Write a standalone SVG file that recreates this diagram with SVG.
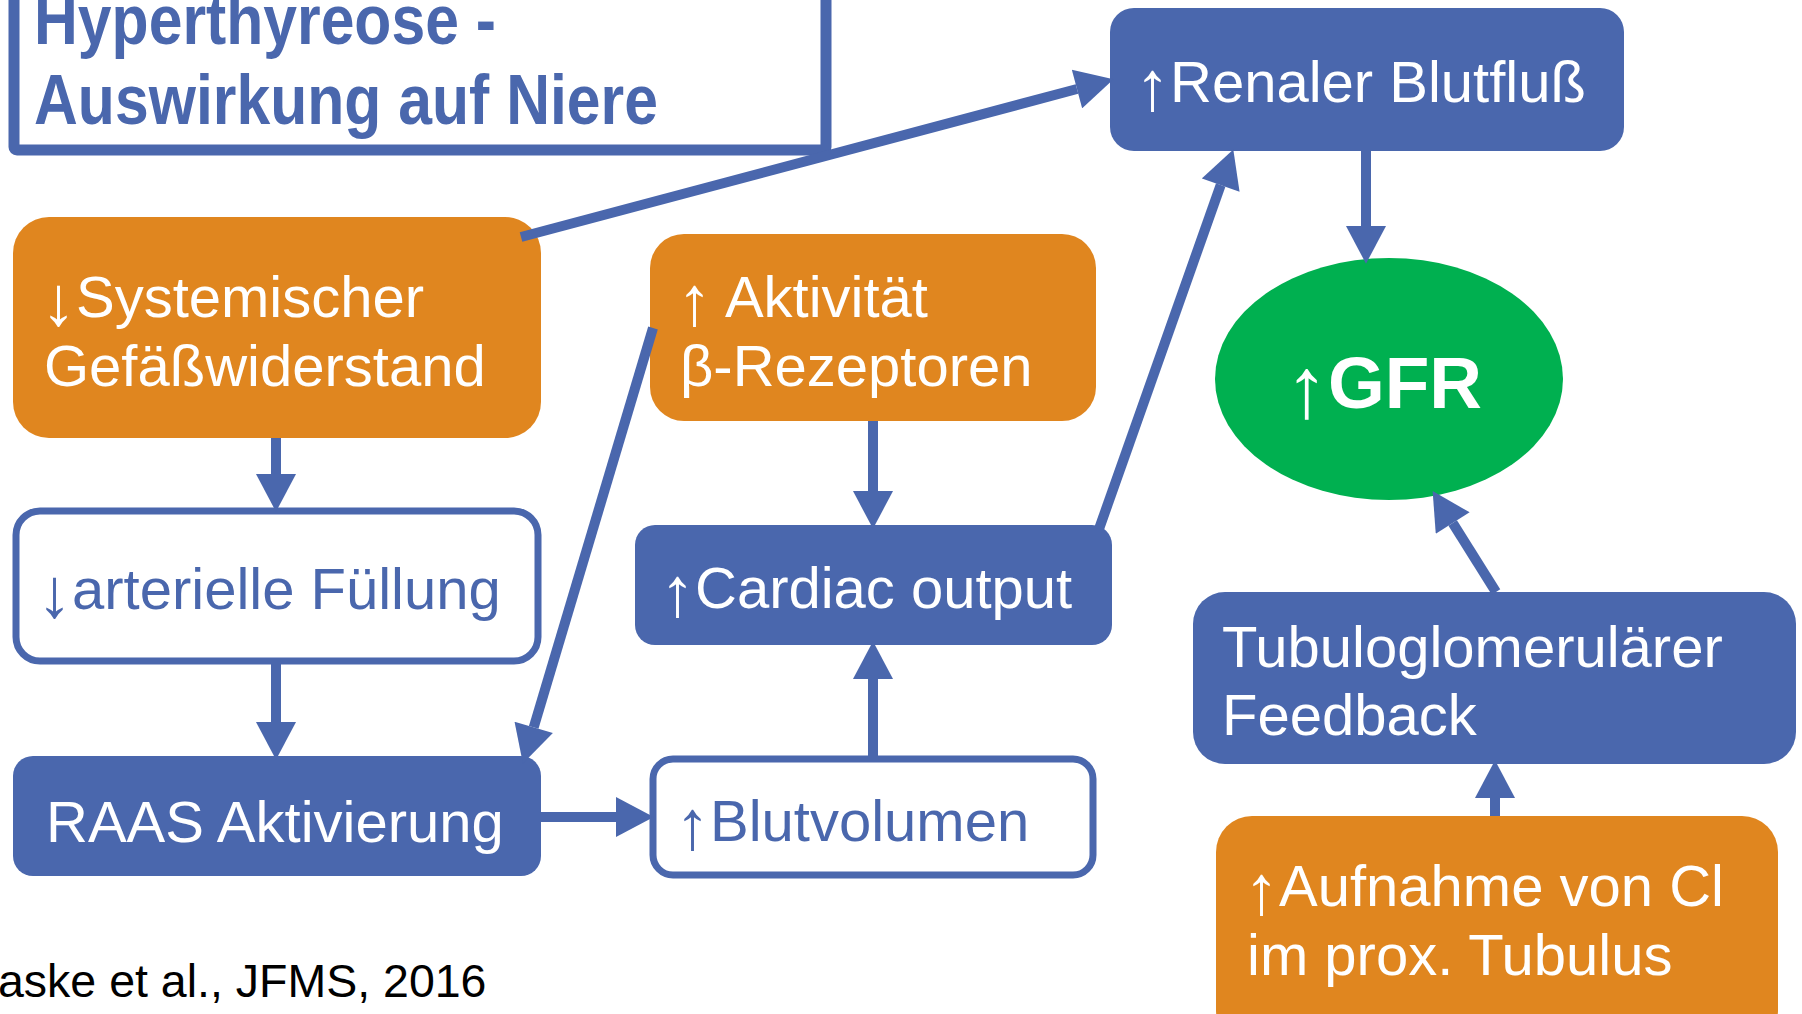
<svg xmlns="http://www.w3.org/2000/svg" width="1802" height="1014" viewBox="0 0 1802 1014">
<style>
.t{font-family:"Liberation Sans",Arial,sans-serif;font-size:58px;}
.w{fill:#ffffff;}
.b{fill:#4A67AD;}
.blue{fill:#4A67AD;}
.orange{fill:#E0861F;}
.outline{fill:#ffffff;stroke:#4A67AD;stroke-width:7;}
.c{stroke:#4A67AD;stroke-width:10;fill:none;marker-end:url(#ah);}
.ar{font-size:70px;}
</style>
<defs>
<marker id="ah" markerUnits="userSpaceOnUse" markerWidth="40" markerHeight="40" refX="0" refY="18" orient="auto" viewBox="0 0 34 36">
<path d="M0,0 L34,18 L0,36 z" fill="#4A67AD"/>
</marker>
</defs>
<rect width="1802" height="1014" fill="#ffffff"/>

<g id="title">
<rect x="14" y="-30" width="812" height="180" rx="3" fill="none" stroke="#4A67AD" stroke-width="11"/>
<text x="34" y="44" font-family="'Liberation Sans Narrow','Liberation Sans',Arial,sans-serif" font-weight="bold" font-size="71" fill="#4A67AD" textLength="462" lengthAdjust="spacingAndGlyphs">Hyperthyreose -</text>
<text x="34" y="124" font-family="'Liberation Sans Narrow','Liberation Sans',Arial,sans-serif" font-weight="bold" font-size="71" fill="#4A67AD" textLength="624" lengthAdjust="spacingAndGlyphs">Auswirkung auf Niere</text>
</g>

<g id="systemischer">
<rect class="orange" x="13" y="217" width="528" height="221" rx="36"/>
<text class="t w" x="41" y="317"><tspan class="ar" dy="8">↓</tspan><tspan dy="-8">Systemischer</tspan></text>
<text class="t w" x="44" y="386">Gefäßwiderstand</text>
</g>

<g id="arterielle">
<rect class="outline" x="16" y="511" width="522" height="150" rx="24"/>
<text class="t b" x="37" y="609"><tspan class="ar" dy="8">↓</tspan><tspan dy="-8">arterielle Füllung</tspan></text>
</g>

<g id="raas">
<rect class="blue" x="13" y="756" width="528" height="120" rx="20"/>
<text class="t w" x="46" y="842">RAAS Aktivierung</text>
</g>

<g id="aktivitaet">
<rect class="orange" x="650" y="234" width="446" height="187" rx="34"/>
<text class="t w" x="677" y="317"><tspan class="ar" dy="8">↑</tspan><tspan dy="-8"> Aktivität</tspan></text>
<text class="t w" x="680" y="386">β-Rezeptoren</text>
</g>

<g id="cardiac">
<rect class="blue" x="635" y="525" width="477" height="120" rx="20"/>
<text class="t w" x="660" y="608"><tspan class="ar" dy="8">↑</tspan><tspan dy="-8">Cardiac output</tspan></text>
</g>

<g id="blutvolumen">
<rect class="outline" x="653" y="759" width="440" height="116" rx="20"/>
<text class="t b" x="675" y="841"><tspan class="ar" dy="8">↑</tspan><tspan dy="-8">Blutvolumen</tspan></text>
</g>

<g id="renaler">
<rect class="blue" x="1110" y="8" width="514" height="143" rx="24"/>
<text class="t w" x="1135" y="102"><tspan class="ar" dy="8">↑</tspan><tspan dy="-8">Renaler Blutfluß</tspan></text>
</g>

<g id="gfr">
<ellipse cx="1389" cy="379" rx="174" ry="121" fill="#00B050"/>
<text x="1285" y="408" font-family="'Liberation Sans',Arial,sans-serif" font-size="73" font-weight="bold" fill="#ffffff"><tspan font-weight="normal" font-size="86" dy="9">↑</tspan><tspan dy="-9">GFR</tspan></text>
</g>

<g id="tubulo">
<rect class="blue" x="1193" y="592" width="603" height="172" rx="32"/>
<text class="t w" x="1222" y="667">Tubuloglomerulärer</text>
<text class="t w" x="1222" y="735">Feedback</text>
</g>

<g id="aufnahme">
<rect class="orange" x="1216" y="816" width="562" height="230" rx="36"/>
<text class="t w" x="1244" y="906"><tspan class="ar" dy="8">↑</tspan><tspan dy="-8">Aufnahme von Cl</tspan></text>
<text class="t w" x="1247" y="975">im prox. Tubulus</text>
</g>

<g id="connectors">
<line class="c" x1="521" y1="237" x2="1077" y2="89"/>
<line class="c" x1="276" y1="438" x2="276" y2="474"/>
<line class="c" x1="276" y1="663" x2="276" y2="722"/>
<line class="c" x1="653" y1="328" x2="533.7" y2="727.4"/>
<line class="c" x1="541" y1="817" x2="616" y2="817"/>
<line class="c" x1="873" y1="421" x2="873" y2="491"/>
<line class="c" x1="873" y1="756" x2="873" y2="679"/>
<line class="c" x1="1099" y1="529" x2="1220.7" y2="185"/>
<line class="c" x1="1366" y1="151" x2="1366" y2="226"/>
<line class="c" x1="1496" y1="592" x2="1452.7" y2="523"/>
<line class="c" x1="1495" y1="816" x2="1495" y2="798"/>
</g>

<text x="-2" y="997" font-family="'Liberation Sans',Arial,sans-serif" font-size="46.5" fill="#000000">aske et al., JFMS, 2016</text>
</svg>
